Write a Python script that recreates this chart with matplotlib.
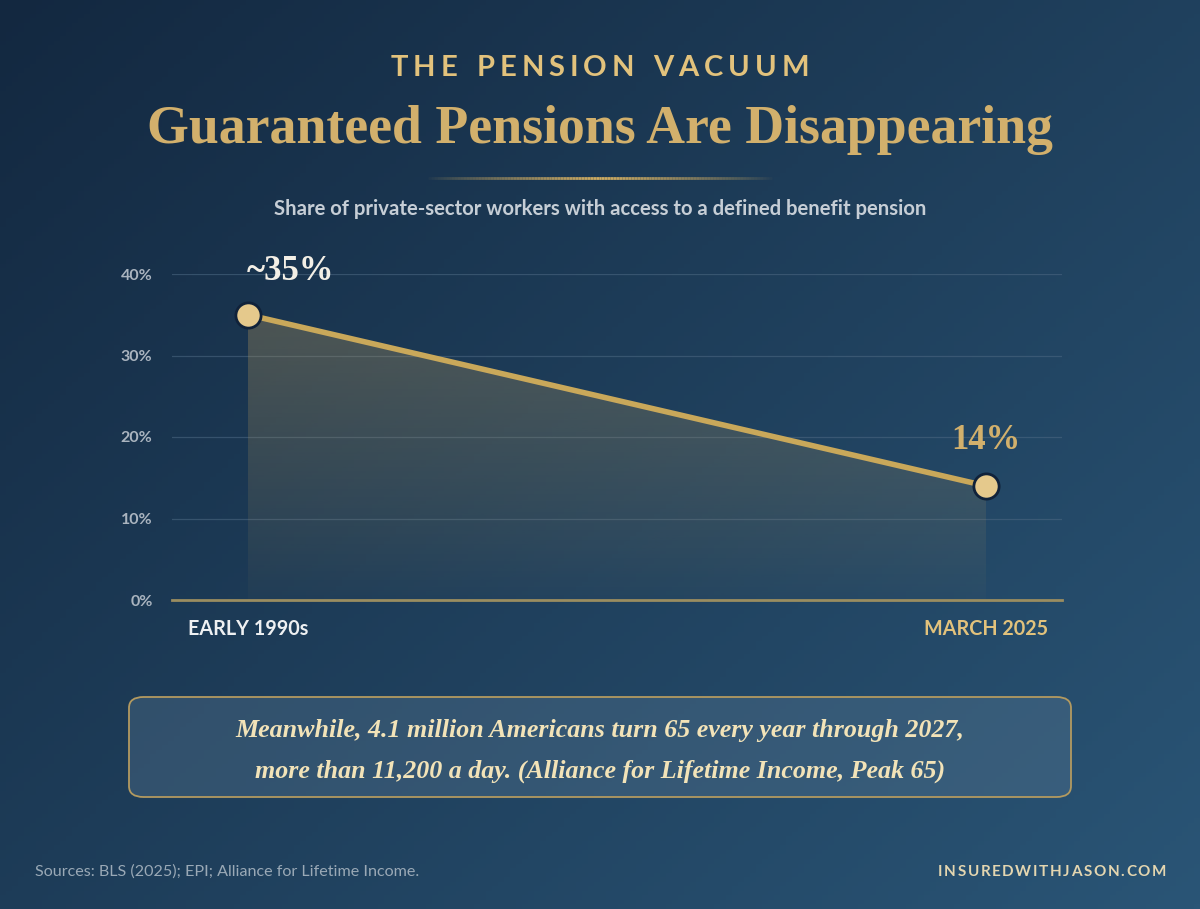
import numpy as np
import matplotlib
matplotlib.use("Agg")
import matplotlib.pyplot as plt
from matplotlib.patches import FancyBboxPatch, Polygon

# data
periods = ["EARLY 1990s", "MARCH 2025"]
share = [35, 14]
point_labels = ["~35%", "14%"]
y_ticks = [0, 10, 20, 30, 40]
y_tick_labels = ["0%", "10%", "20%", "30%", "40%"]

W, H = 1200, 909
GOLD = "#d2b06c"
LINE_GOLD = "#c9a85a"

plt.rcParams["font.family"] = ["Lato", "DejaVu Sans"]

fig = plt.figure(figsize=(W / 100, H / 100), dpi=100)

# background gradient
bg = fig.add_axes([0, 0, 1, 1], zorder=-10)
yy, xx = np.mgrid[0:1:200j, 0:1:200j]
t = np.clip(0.55 * xx + 0.45 * yy, 0, 1)
c0 = np.array([0x13, 0x28, 0x40]) / 255
c1 = np.array([0x2a, 0x55, 0x76]) / 255
img = c0[None, None, :] * (1 - t[..., None]) + c1[None, None, :] * t[..., None]
bg.imshow(img, extent=[0, 1, 0, 1], aspect="auto", origin="upper")
bg.set_xlim(0, 1)
bg.set_ylim(0, 1)
bg.axis("off")


def fx(px):
    return px / W


def fy(py):
    return 1 - py / H


def spaced_text(x, y, s, spacing, **kw):
    # draw text with letter tracking, centred or right aligned at x (pixels)
    ha = kw.pop("ha", "center")
    r = fig.canvas.get_renderer()
    widths = []
    for ch in s:
        tt = fig.text(0, 0, ch if ch != " " else "n", **kw)
        bb = tt.get_window_extent(renderer=r)
        w = bb.width if ch != " " else bb.width * 0.55
        widths.append(w)
        tt.remove()
    total = sum(widths) + spacing * (len(s) - 1)
    if ha == "center":
        start = x - total / 2
    elif ha == "right":
        start = x - total
    else:
        start = x
    cur = start
    for ch, w in zip(s, widths):
        if ch != " ":
            fig.text(fx(cur), fy(y), ch, ha="left", va="center", **kw)
        cur += w + spacing


# headings
spaced_text(600, 68, "THE PENSION VACUUM", 5.0, fontsize=21, fontweight="bold", color="#e2c27c")
fig.text(0.5, fy(130), "Guaranteed Pensions Are Disappearing", ha="center", va="center",
         fontsize=38.7, fontweight="bold", color=GOLD, family=["Liberation Serif", "DejaVu Serif"])

# divider
n = 120
xs = np.linspace(fx(425), fx(775), n)
for i in range(n - 1):
    a = 1 - abs((i / (n - 2)) * 2 - 1)
    bg.plot(xs[i:i + 2], [fy(178)] * 2, color="#d2ae62", alpha=a ** 0.8, lw=2, solid_capstyle="butt")

fig.text(0.5, fy(209), "Share of private-sector workers with access to a defined benefit pension",
         ha="center", va="center", fontsize=14.6, fontweight="bold", color="#c6ced6")

# main chart
ax = fig.add_axes([fx(172), fy(600), fx(1062) - fx(172), (600 - 274) / H])
ax.patch.set_alpha(0)
x = np.arange(len(periods))
ax.set_xlim(-76 / 738, 1 + 76 / 738)
ax.set_ylim(0, 40)

for yt in y_ticks[1:]:
    ax.axhline(yt, color="#4a6680", lw=0.9, alpha=0.6, zorder=1)
ax.axhline(0, color="#9a8d60", lw=2, zorder=2, clip_on=False)

# gradient fill under line
poly = Polygon([[x[0], 0], [x[0], share[0]], [x[1], share[1]], [x[1], 0]], closed=True,
               facecolor="none", edgecolor="none")
ax.add_patch(poly)
grad = np.linspace(1, 0, 100)[:, None]
fill_img = np.zeros((100, 1, 4))
fill_img[..., 0] = 0xb8 / 255
fill_img[..., 1] = 0x9a / 255
fill_img[..., 2] = 0x5e / 255
fill_img[..., 3] = 0.30 * grad ** 0.9 + 0.03
im = ax.imshow(fill_img, extent=[x[0], x[1], 0, share[0]], aspect="auto", origin="upper", zorder=2)
im.set_clip_path(poly)

ax.plot(x, share, color=LINE_GOLD, lw=4, zorder=3, solid_capstyle="round")
ax.scatter(x, share, s=330, color="#e5c98c", edgecolor="#10223a", linewidth=2, zorder=4)

ax.text(x[0] + 42 / 738, share[0] + 5.3, point_labels[0], ha="center", va="center",
        fontsize=25, fontweight="bold", color="#f3efe6", family=["Liberation Serif", "DejaVu Serif"])
ax.text(x[1], share[1] + 5.6, point_labels[1], ha="center", va="center",
        fontsize=25, fontweight="bold", color=GOLD, family=["Liberation Serif", "DejaVu Serif"])

ax.set_yticks(y_ticks)
ax.set_yticklabels(y_tick_labels, fontsize=11.5, fontweight="bold", color="#aab4bf")
ax.set_xticks(x)
ax.set_xticklabels(periods, fontsize=14.2, fontweight="bold")
ax.get_xticklabels()[0].set_color("#eef0f2")
ax.get_xticklabels()[1].set_color("#e2c27c")
ax.tick_params(axis="y", length=0, pad=14)
ax.tick_params(axis="x", length=0, pad=14)
for s in ax.spines.values():
    s.set_visible(False)

# callout box
box = FancyBboxPatch((fx(129), fy(797)), fx(1071) - fx(129), (797 - 697) / H,
                     boxstyle="round,pad=0,rounding_size=0.012", transform=fig.transFigure,
                     facecolor="#5a7a95", alpha=0.35, edgecolor="none")
fig.patches.append(box)
box2 = FancyBboxPatch((fx(129), fy(797)), fx(1071) - fx(129), (797 - 697) / H,
                      boxstyle="round,pad=0,rounding_size=0.012", transform=fig.transFigure,
                      facecolor="none", edgecolor="#b39a60", lw=1.3)
fig.patches.append(box2)
fig.text(0.5, fy(731), "Meanwhile, 4.1 million Americans turn 65 every year through 2027,",
         ha="center", va="center", fontsize=18.7, style="italic", fontweight="bold", color="#f2e3b8",
         family=["Liberation Serif", "DejaVu Serif"])
fig.text(0.5, fy(771), "more than 11,200 a day. (Alliance for Lifetime Income, Peak 65)",
         ha="center", va="center", fontsize=18.7, style="italic", fontweight="bold", color="#f2e3b8",
         family=["Liberation Serif", "DejaVu Serif"])

# footer
fig.text(fx(35), fy(872), "Sources: BLS (2025); EPI; Alliance for Lifetime Income.",
         ha="left", va="center", fontsize=11.6, color="#9aa9b6")
spaced_text(1166, 872, "INSUREDWITHJASON.COM", 1.6, ha="right", fontsize=11, fontweight="bold", color="#e4d6b0")

fig.savefig("out.png", dpi=100)
